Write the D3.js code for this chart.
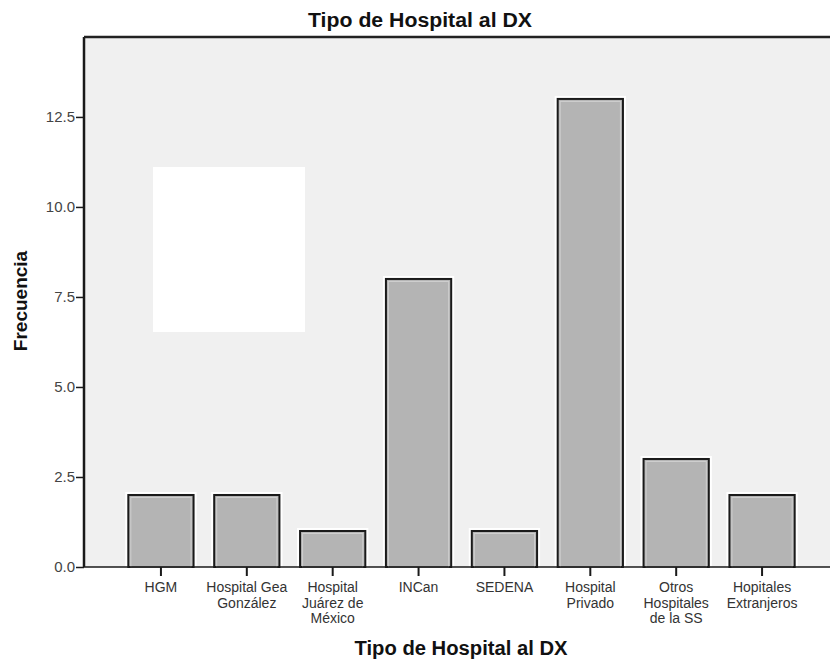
<!DOCTYPE html>
<html>
<head>
<meta charset="utf-8">
<script src="https://cdn.jsdelivr.net/npm/d3@7"></script>
<style>
  body { margin: 0; background: #fff; }
  text { font-family: "Liberation Sans", Arial, sans-serif; }
</style>
</head>
<body>
<div id="chart"></div>
<script>
// datos
const categorias = ['HGM', 'Hospital Gea\nGonzález', 'Hospital\nJuárez de\nMéxico', 'INCan', 'SEDENA',
  'Hospital\nPrivado', 'Otros\nHospitales\nde la SS', 'Hopitales\nExtranjeros'];
const frecuencias = [2, 2, 1, 8, 1, 13, 3, 2];
const ticksY = [0, 2.5, 5, 7.5, 10, 12.5];

const W = 830, H = 660;
let margin = {top: 37, right: 0, bottom: 93, left: 84},
    width = W - margin.left - margin.right,
    height = H - margin.top - margin.bottom;

let svg = d3.select('#chart').append('svg')
    .attr('width', W).attr('height', H);

let g = svg.append('g')
    .attr('transform', 'translate(' + margin.left + ',' + margin.top + ')');

// fondo del area
g.append('rect')
    .attr('x', 0).attr('y', 0)
    .attr('width', width).attr('height', height)
    .attr('fill', '#f0f0f0');

let x = d3.scaleBand()
    .domain(categorias)
    .range([118 - margin.left, 805 - margin.left])
    .paddingInner(0.24)
    .paddingOuter(0.12);

let y = d3.scaleLinear()
    .domain([0, 14.72])
    .range([height, 0]);

// barras: halo blanco, relleno, borde
let bars = g.append('g').selectAll('g')
    .data(categorias)
    .enter().append('g');

bars.append('rect')
    .attr('x', d => x(d) - 1.5)
    .attr('y', (d, i) => y(frecuencias[i]) - 1.5)
    .attr('width', x.bandwidth() + 3)
    .attr('height', (d, i) => y(0) - y(frecuencias[i]) + 1.5)
    .attr('fill', 'none')
    .attr('stroke', '#fff')
    .attr('stroke-width', 3);

bars.append('rect')
    .attr('x', d => x(d))
    .attr('y', (d, i) => y(frecuencias[i]))
    .attr('width', x.bandwidth())
    .attr('height', (d, i) => y(0) - y(frecuencias[i]))
    .attr('fill', '#b4b4b4')
    .attr('stroke', '#1a1a1a')
    .attr('stroke-width', 2);

bars.append('rect')
    .attr('x', d => x(d) + 2.5)
    .attr('y', (d, i) => y(frecuencias[i]) + 2.5)
    .attr('width', x.bandwidth() - 5)
    .attr('height', (d, i) => Math.max(0, y(0) - y(frecuencias[i]) - 2.5))
    .attr('fill', 'none')
    .attr('stroke', '#cfcfcf')
    .attr('stroke-width', 1);

// recuadro blanco
g.append('rect')
    .attr('x', 153 - margin.left).attr('y', 167 - margin.top)
    .attr('width', 152).attr('height', 165)
    .attr('fill', '#fff');

// eje X
let xAxis = g.append('g')
    .attr('transform', 'translate(0,' + height + ')')
    .call(d3.axisBottom(x).tickSize(9).tickFormat(''));
xAxis.select('.domain').attr('stroke', '#1a1a1a').attr('stroke-width', 1.5)
    .attr('d', 'M0,0H' + width);
xAxis.selectAll('.tick line').attr('stroke', '#1a1a1a').attr('stroke-width', 2);

xAxis.selectAll('.tick').each(function(d) {
    let lineas = d.split('\n');
    let t = d3.select(this).append('text')
        .attr('fill', '#333')
        .attr('font-size', 14)
        .attr('text-anchor', 'middle')
        .attr('y', 25);
    lineas.forEach(function(l, i) {
        t.append('tspan').attr('x', 0).attr('dy', i == 0 ? 0 : 15.5).text(l);
    });
});

// eje Y
let yAxis = g.append('g')
    .call(d3.axisLeft(y).tickValues(ticksY).tickSize(8).tickFormat(d3.format('.1f')));
yAxis.select('.domain').attr('stroke', '#1a1a1a').attr('stroke-width', 2.5)
    .attr('d', 'M0,' + height + 'V0');
yAxis.selectAll('.tick line').attr('stroke', '#1a1a1a').attr('stroke-width', 1.5);
yAxis.selectAll('.tick text')
    .attr('fill', '#444')
    .attr('font-size', 15)
    .attr('x', -9);

// borde superior
g.append('line')
    .attr('x1', 0).attr('x2', width)
    .attr('y1', 0).attr('y2', 0)
    .attr('stroke', '#222').attr('stroke-width', 2.5);

// titulos
svg.append('text')
    .attr('x', 420).attr('y', 27)
    .attr('text-anchor', 'middle')
    .attr('font-size', 20)
    .attr('font-weight', 'bold')
    .attr('textLength', 224)
    .attr('lengthAdjust', 'spacingAndGlyphs')
    .attr('fill', '#111')
    .text('Tipo de Hospital al DX');

svg.append('text')
    .attr('x', 461).attr('y', 655)
    .attr('text-anchor', 'middle')
    .attr('font-size', 20)
    .attr('font-weight', 'bold')
    .attr('textLength', 213)
    .attr('lengthAdjust', 'spacingAndGlyphs')
    .attr('fill', '#111')
    .text('Tipo de Hospital al DX');

svg.append('text')
    .attr('transform', 'translate(27,301) rotate(-90)')
    .attr('text-anchor', 'middle')
    .attr('font-size', 19)
    .attr('font-weight', 'bold')
    .attr('fill', '#111')
    .text('Frecuencia');
</script>
</body>
</html>
